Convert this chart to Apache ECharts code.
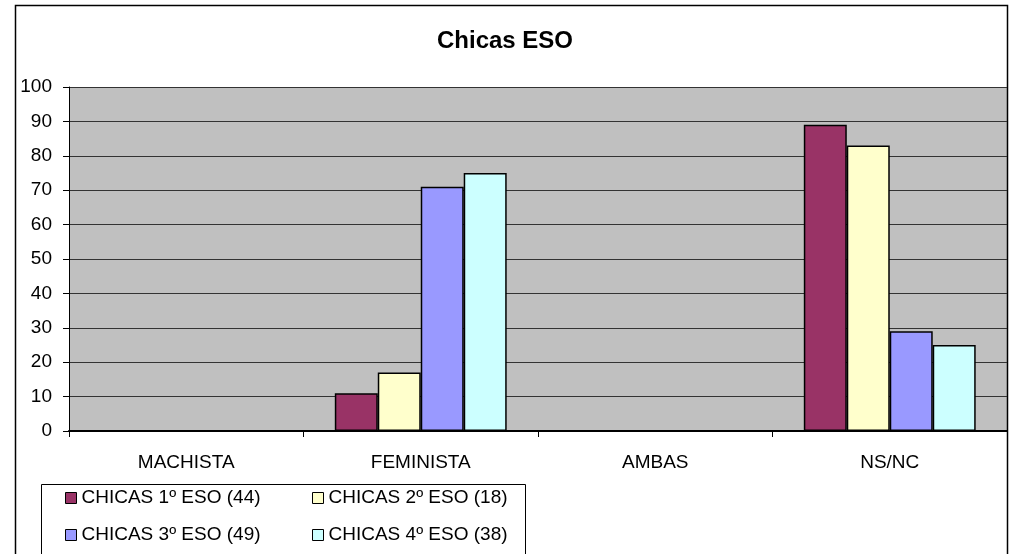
<!DOCTYPE html>
<html lang="es">
<head>
	<meta charset="UTF-8">
	<title>Chicas ESO</title>
	<script src="https://cdn.jsdelivr.net/npm/echarts@6/dist/echarts.min.js"></script>
	<style>
		html, body { margin: 0; padding: 0; background: #fff; }
		#chart { width: 1014px; height: 554px; }
	</style>
</head>
<body>
	<div id="chart"></div>
	<script>
		// datos
		var categorias = ['MACHISTA', 'FEMINISTA', 'AMBAS', 'NS/NC'];
		var nombres = ['CHICAS 1º ESO (44)', 'CHICAS 2º ESO (18)', 'CHICAS 3º ESO (49)', 'CHICAS 4º ESO (38)'];
		var eso1 = [0, 11, 0, 89];
		var eso2 = [0, 17, 0, 83];
		var eso3 = [0, 71, 0, 29];
		var eso4 = [0, 75, 0, 25];
		var colores = ['#993366', '#FFFFCC', '#9999FF', '#CCFFFF'];

		var fuente = '"Liberation Sans", Arial, sans-serif';
		var chart = echarts.init(document.getElementById('chart'));

		function serie(i, valores) {
			return {
				name: nombres[i],
				type: 'bar',
				data: valores,
				barGap: '0%',
				barCategoryGap: '26.7%',
				itemStyle: { color: colores[i], borderColor: '#000', borderWidth: 1.5 }
			};
		}

		var leyenda = {
			orient: 'vertical',
			top: 488,
			itemGap: 17,
			itemWidth: 11,
			itemHeight: 11,
			icon: 'rect',
			itemStyle: { borderColor: '#000', borderWidth: 1 },
			textStyle: { fontFamily: fuente, fontSize: 19, color: '#000', lineHeight: 20 },
			padding: 0
		};

		chart.setOption({
			animation: false,
			backgroundColor: '#fff',
			color: colores,
			title: {
				text: 'Chicas ESO',
				left: 500,
				top: 24,
				textAlign: 'center',
				textStyle: { fontFamily: fuente, fontSize: 24, fontWeight: 'bold', color: '#000' }
			},
			// marcos del gráfico y de la leyenda
			graphic: [
				{ type: 'rect', shape: { x: 15.5, y: 5.5, width: 992, height: 600 }, style: { fill: null, stroke: '#000', lineWidth: 1.5 }, silent: true },
				{ type: 'rect', shape: { x: 41.5, y: 484.5, width: 484, height: 100 }, style: { fill: null, stroke: '#000', lineWidth: 1 }, silent: true }
			],
			legend: [
				Object.assign({ left: 65, data: [nombres[0], nombres[2]] }, leyenda),
				Object.assign({ left: 312, data: [nombres[1], nombres[3]] }, leyenda)
			],
			grid: {
				left: 69,
				right: 7,
				top: 87,
				bottom: 123,
				show: true,
				backgroundColor: '#C0C0C0',
				borderWidth: 0
			},
			xAxis: {
				type: 'category',
				data: categorias,
				axisLine: { lineStyle: { color: '#000', width: 2 } },
				axisTick: { show: true, length: 6, lineStyle: { color: '#000' } },
				axisLabel: { fontFamily: fuente, fontSize: 19, color: '#000', margin: 22 }
			},
			yAxis: {
				type: 'value',
				min: 0,
				max: 100,
				interval: 10,
				axisLine: { show: true, lineStyle: { color: '#000', width: 1 } },
				axisTick: { show: true, length: 6, lineStyle: { color: '#000' } },
				axisLabel: { fontFamily: fuente, fontSize: 19, color: '#000', margin: 17 },
				splitLine: { show: true, lineStyle: { color: '#333', width: 1 } }
			},
			series: [serie(0, eso1), serie(1, eso2), serie(2, eso3), serie(3, eso4)]
		});
	</script>
</body>
</html>
